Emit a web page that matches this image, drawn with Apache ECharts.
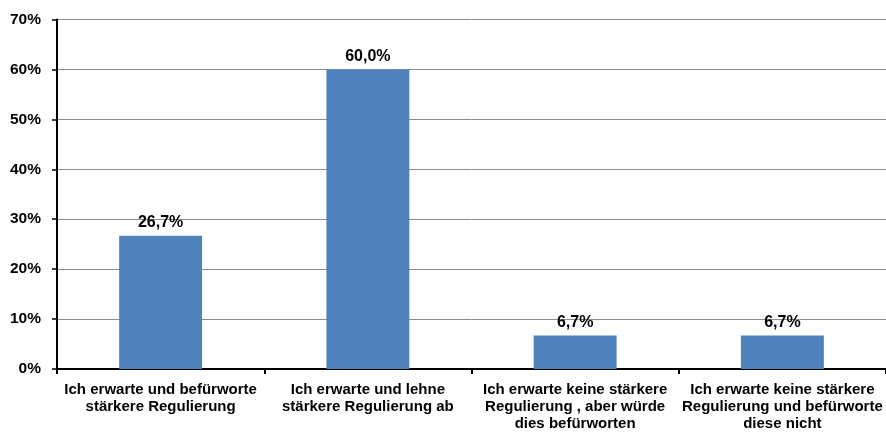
<!DOCTYPE html>
<html><head><meta charset="utf-8">
<script src="https://cdn.jsdelivr.net/npm/echarts@6/dist/echarts.min.js"></script>
<style>html,body{margin:0;padding:0;background:#fff}#c{width:886px;height:432px}</style>
</head><body><div id="c"></div>
<script>
const categories = [
  "Ich erwarte und befürworte\nstärkere Regulierung",
  "Ich erwarte und lehne\nstärkere Regulierung ab",
  "Ich erwarte keine stärkere\nRegulierung , aber würde\ndies befürworten",
  "Ich erwarte keine stärkere\nRegulierung und befürworte\ndiese nicht"
];
const values = [26.7, 60.0, 6.7, 6.7];
const yTicks = [0, 10, 20, 30, 40, 50, 60, 70];

const chart = echarts.init(document.getElementById('c'), null, {renderer: 'canvas'});
chart.setOption({
  animation: false,
  grid: {left: 57, top: 19.5, width: 832, bottom: 61, containLabel: false},
  xAxis: {
    type: 'category', data: categories,
    axisLine: {lineStyle: {color: '#000', width: 2}},
    axisTick: {show: true, length: 5, alignWithLabel: false, lineStyle: {color: '#000', width: 2}},
    axisLabel: {interval: 0, margin: 12, color: '#000', fontFamily: 'Liberation Sans, Arial', fontWeight: 'bold', fontSize: 15, lineHeight: 17}
  },
  yAxis: {
    type: 'value', min: yTicks[0], max: yTicks[yTicks.length - 1], interval: 10,
    axisLine: {show: true, lineStyle: {color: '#000', width: 2}},
    axisTick: {show: true, length: 5, lineStyle: {color: '#000', width: 1.5}},
    axisLabel: {margin: 16, color: '#000', fontFamily: 'Liberation Sans, Arial', fontWeight: 'bold', fontSize: 15.5, formatter: v => v + '%'},
    splitLine: {lineStyle: {color: '#8c8c8c', width: 1}}
  },
  series: [{
    type: 'bar', data: values, barWidth: '40%',
    itemStyle: {color: '#4F81BD'},
    label: {show: true, position: 'top', distance: 5, color: '#000', fontFamily: 'Liberation Sans, Arial', fontWeight: 'bold', fontSize: 16,
      formatter: p => p.value.toFixed(1).replace('.', ',') + '%'}
  }]
});
</script></body></html>
